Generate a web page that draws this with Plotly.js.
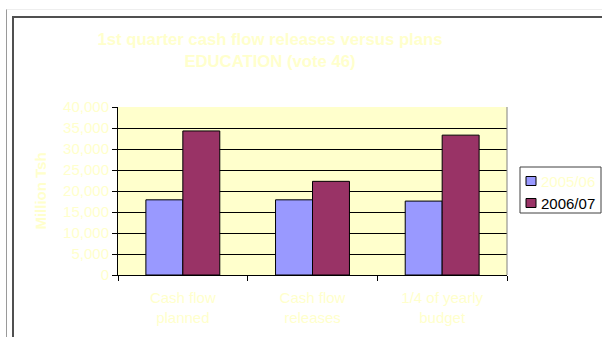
<!DOCTYPE html>
<html>
<head>
<meta charset="utf-8">
<script src="https://cdn.plot.ly/plotly-3.0.1.min.js"></script>
<style>
  html, body { margin: 0; padding: 0; background: #ffffff; }
  #wrap { position: relative; width: 602px; height: 337px; overflow: hidden; }
  #outer { position: absolute; left: 6px; top: 9px; width: 700px; height: 400px;
           border-left: 1px solid #9a9a9a; border-top: 1px solid #eeeeee; }
  #frame { position: absolute; left: 12px; top: 16px; width: 700px; height: 400px;
           border-left: 2px solid #505050; border-top: 2px solid #505050; }
  #chart { position: absolute; left: 0; top: 0; width: 602px; height: 337px; }
</style>
</head>
<body>
<div id="wrap">
  <div id="outer"></div>
  <div id="frame"></div>
  <div id="chart"></div>
</div>
<script>
const categories = ["Cash flow<br>planned", "Cash flow<br>releases", "1/4 of yearly<br>budget"];
const seriesNames = ["2005/06", "2006/07"];
const series2005 = [17900, 17900, 17600];
const series2006 = [34300, 22300, 33300];
const yTickVals = [0, 5000, 10000, 15000, 20000, 25000, 30000, 35000, 40000];
const yTickText = ["0", "5,000", "10,000", "15,000", "20,000", "25,000", "30,000", "35,000", "40,000"];

const FONT = "Arial, 'Liberation Sans', sans-serif";
const PALE = "#FFFFCC";
const COLORS = ["#9999FF", "#993366"];
const LEGEND_TEXT = [PALE, "#000000"];

const traces = [
  {
    type: "bar", x: categories, y: series2005, name: seriesNames[0], showlegend: false,
    marker: { color: COLORS[0], line: { color: "#000000", width: 1 } }
  },
  {
    type: "bar", x: categories, y: series2006, name: seriesNames[1], showlegend: false,
    marker: { color: COLORS[1], line: { color: "#000000", width: 1 } }
  }
];

// plot area in pixels (from margins) to place the legend box in paper units
const W = 602, H = 337, ML = 118, MR = 95, MT = 107, MB = 62;
const PW = W - ML - MR, PH = H - MT - MB;
const px = v => (v - ML) / PW;
const py = v => (H - MB - v) / PH;

const legendShapes = [
  { type: "rect", xref: "paper", yref: "paper", x0: px(520), x1: px(601), y0: py(213), y1: py(167),
    line: { color: "#404040", width: 1 }, fillcolor: "#ffffff", layer: "above" }
];
const legendAnnots = [];
seriesNames.forEach((nm, i) => {
  const cy = 181 + i * 22;
  legendShapes.push({ type: "rect", xref: "paper", yref: "paper",
    x0: px(526), x1: px(536), y0: py(cy + 4.5), y1: py(cy - 4.5),
    line: { color: "#000000", width: 1 }, fillcolor: COLORS[i], layer: "above" });
  legendAnnots.push({ xref: "paper", yref: "paper", x: px(539), y: py(cy),
    xanchor: "left", yanchor: "middle", showarrow: false, text: nm,
    font: { family: FONT, size: 15, color: LEGEND_TEXT[i] } });
});

const layout = {
  width: W, height: H,
  margin: { l: ML, r: MR, t: MT, b: MB, pad: 0, autoexpand: false },
  paper_bgcolor: "rgba(0,0,0,0)",
  plot_bgcolor: "#FFFFCC",
  font: { family: FONT, size: 15, color: PALE },
  barmode: "group",
  bargap: 0.43,
  bargroupgap: 0,
  showlegend: false,
  title: {
    text: "<b>1st quarter cash flow releases versus plans<br>EDUCATION (vote 46)</b>",
    font: { family: FONT, size: 16.7, color: PALE },
    x: 270 / 602, xref: "container", xanchor: "center",
    y: 1 - 45 / 337, yref: "container", yanchor: "top"
  },
  xaxis: {
    type: "category",
    showline: true, linecolor: "#000000", linewidth: 1,
    ticks: "outside", tickson: "boundaries", ticklen: 5, tickcolor: "#000000",
    ticklabelstandoff: 9,
    tickfont: { family: FONT, size: 15, color: PALE },
    showgrid: false, zeroline: false
  },
  yaxis: {
    range: [0, 40000],
    tickvals: yTickVals, ticktext: yTickText,
    showline: true, linecolor: "#000000", linewidth: 1,
    ticks: "outside", ticklen: 5, tickcolor: "#000000",
    tickfont: { family: FONT, size: 15, color: PALE },
    showgrid: true, gridcolor: "#000000", gridwidth: 1,
    zeroline: false,
    title: { text: "<b>Million Tsh</b>", font: { family: FONT, size: 15, color: PALE }, standoff: 12 }
  },
  shapes: [
    { type: "line", xref: "paper", yref: "paper", x0: 1, x1: 1, y0: 0, y1: 1,
      line: { color: "#808080", width: 1 } }
  ].concat(legendShapes),
  annotations: legendAnnots
};

Plotly.newPlot("chart", traces, layout, { displayModeBar: false, staticPlot: true });
</script>
</body>
</html>
